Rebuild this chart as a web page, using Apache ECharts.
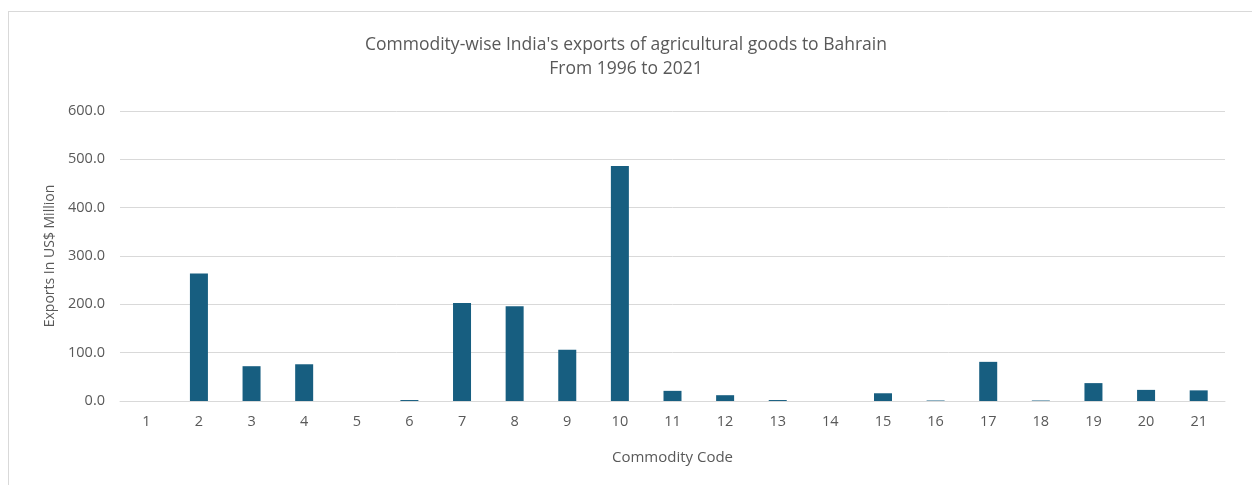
<!DOCTYPE html>
<html><head><meta charset="utf-8">
<script src="https://cdn.jsdelivr.net/npm/echarts@6/dist/echarts.min.js"></script>
<style>html,body{margin:0;padding:0;background:#fff}#c{width:1252px;height:485px}
#frame{position:absolute;left:8px;top:11px;width:1260px;height:490px;border:1px solid #d9d9d9;box-sizing:border-box;pointer-events:none}</style>
</head><body><div id="c"></div><div id="frame"></div>
<script>
const categories = ['1','2','3','4','5','6','7','8','9','10','11','12','13','14','15','16','17','18','19','20','21'];
const exportsValues = [0, 264, 72, 76, 0, 2, 203, 196, 106, 486, 21, 12, 2, 0, 16, 1, 81, 1, 37, 23, 22];
const yTicks = [0, 100, 200, 300, 400, 500, 600];
const chart = echarts.init(document.getElementById('c'));
const txt = '#595959';
const ff = 'Open Sans';
chart.setOption({
  animation:false,
  title:{text:"Commodity-wise India's exports of agricultural goods to Bahrain\nFrom 1996 to 2021",left:'center',top:28,
    textStyle:{fontFamily:ff,fontSize:17.5,fontWeight:'normal',color:txt,lineHeight:24}},
  grid:{left:120,right:27,top:111,bottom:84},
  xAxis:{type:'category',data:categories,name:'Commodity Code',nameLocation:'middle',nameGap:49,
    nameTextStyle:{fontFamily:ff,fontSize:15,color:txt},
    axisLine:{lineStyle:{color:'#d9d9d9',width:1}},axisTick:{show:false},
    axisLabel:{fontFamily:ff,fontSize:14.5,color:txt,margin:13}},
  yAxis:{type:'value',min:yTicks[0],max:yTicks[yTicks.length-1],interval:100,
    name:'Exports In US$ Million',nameLocation:'middle',nameGap:63,
    nameTextStyle:{fontFamily:ff,fontSize:14,color:txt},
    axisLine:{show:false},axisTick:{show:false},
    splitLine:{lineStyle:{color:'#d9d9d9',width:1}},
    axisLabel:{fontFamily:ff,fontSize:14.5,color:txt,margin:15,formatter:v=>v.toFixed(1)}},
  series:[{type:'bar',data:exportsValues,barWidth:18,itemStyle:{color:'#175e80'}}]
});
</script></body></html>
